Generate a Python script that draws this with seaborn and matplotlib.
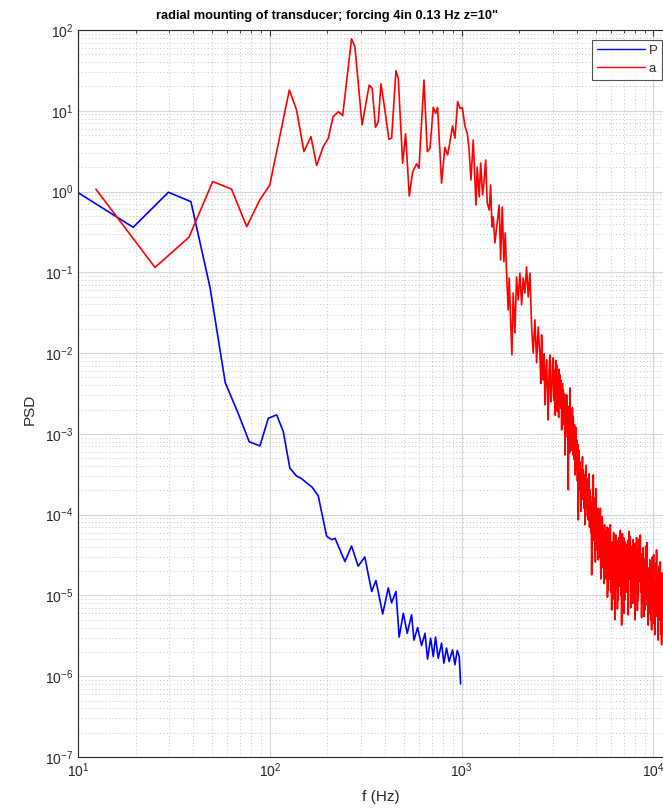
import numpy as np
import pandas as pd
import matplotlib
matplotlib.use("Agg")
import matplotlib.pyplot as plt
import seaborn as sns
from matplotlib.ticker import LogLocator, NullFormatter, FixedLocator

# ---------------- data ----------------
p_freq = [9.8, 19.4, 29.6, 38.8, 48.8, 58.6, 68.4, 78.1, 88.9, 98.2, 108.6, 117.6,
          127.3, 138, 146.5, 152.6, 166, 179, 198, 210.5, 219, 246.6, 267, 289,
          313, 340, 358, 388, 415, 432, 455, 473, 497, 521, 549, 565, 590, 619,
          645, 665, 690, 712, 732, 756, 787, 809, 835, 862, 898, 924, 950, 973, 989]
p_psd = [1.0, 0.361, 0.98, 0.75, 0.065, 0.0043, 0.0018, 8.0e-4, 7.1e-4, 1.56e-3,
         1.72e-3, 1.07e-3, 3.77e-4, 3.0e-4, 2.8e-4, 2.57e-4, 2.2e-4, 1.71e-4,
         5.4e-5, 4.9e-5, 5.1e-5, 2.63e-5, 4.1e-5, 2.3e-5, 3.0e-5, 1.12e-5,
         1.53e-5, 5.9e-6, 1.24e-5, 8.1e-6, 1.12e-5, 3.05e-6, 6.0e-6, 3.4e-6,
         5.75e-6, 2.8e-6, 4.0e-6, 2.4e-6, 3.4e-6, 1.63e-6, 2.96e-6, 1.75e-6,
         3.05e-6, 1.67e-6, 2.57e-6, 1.45e-6, 2.23e-6, 1.52e-6, 2.12e-6, 1.39e-6,
         2.08e-6, 1.75e-6, 8.05e-7]

# accelerometer: low-frequency part
a_freq_low = [12.4, 25.2, 37.9, 50.4, 63.2, 75.8, 89, 100, 126.5, 138, 150.7, 164,
              175.6, 190, 202, 214, 228, 240, 267, 278, 303, 330, 342, 356, 368, 380,
              394, 418, 432, 455, 468, 493, 511, 534, 556, 583, 600, 637, 663, 685,
              712, 733, 750, 787, 819, 846, 862, 898, 924, 954, 982, 1009, 1043, 1072,
              1094, 1120, 1151, 1175, 1189, 1207, 1237, 1258, 1288, 1309, 1336, 1362,
              1395, 1418, 1441, 1463, 1493, 1535, 1572, 1599, 1630, 1663, 1690, 1718,
              1752, 1773, 1803, 1831, 1860, 1898, 1937, 1975, 2016, 2057, 2097, 2140,
              2184, 2227, 2273, 2320, 2365, 2414, 2464, 2512]
a_psd_low = [1.07, 0.115, 0.272, 1.33, 1.07, 0.368, 0.80, 1.2, 18.1, 10.2, 3.12, 4.78,
             2.1, 3.6, 4.57, 8.45, 9.75, 8.7, 78, 62, 6.7, 20.8, 19, 6.25, 7.3, 21.5,
             12.4, 4.43, 4.57, 31.3, 25.2, 2.24, 5.16, 0.88, 1.76, 2.2, 1.94, 24, 3.12,
             3.43, 11, 9.3, 11, 1.27, 3.53, 2.84, 3.6, 6.5, 4.57, 13, 10.7, 11, 6.4, 5.2,
             3.4, 1.39, 4.35, 1.39, 0.68, 2.01, 0.86, 2.26, 0.91, 1.28, 2.46, 0.72,
             0.59, 1.21, 0.365, 0.485, 0.231, 0.41, 0.68, 0.142, 0.645, 0.135, 0.308,
             0.098, 0.0343, 0.0853, 0.0258, 0.0095, 0.0556, 0.0178, 0.0877, 0.0455,
             0.098, 0.0395, 0.0853, 0.0556, 0.117, 0.0497, 0.098, 0.0211, 0.0100,
             0.0258, 0.0076, 0.0211]

# accelerometer: mid band 2.5-4.4 kHz
a_freq_mid = [2563, 2590, 2616, 2641, 2667, 2694, 2722, 2750, 2779, 2806, 2833, 2862,
              2891, 2921, 2951, 2980, 3008, 3023, 3038, 3053, 3069, 3084, 3100, 3116,
              3133, 3148, 3163, 3178, 3194, 3210, 3227, 3243, 3260, 3276, 3293, 3310,
              3327, 3343, 3360, 3376, 3392, 3410, 3427, 3444, 3462, 3480, 3497, 3515,
              3533, 3550, 3567, 3585, 3602, 3621, 3640, 3658, 3676, 3695, 3714, 3733,
              3752, 3770, 3788, 3806, 3825, 3845, 3865, 3884, 3904, 3924, 3944, 3964,
              3985, 4004, 4023, 4042, 4062, 4083, 4104, 4125, 4146, 4167, 4189, 4210,
              4232, 4252, 4273, 4293, 4314, 4336, 4358, 4380]
a_psd_mid = [0.0095, 0.0042, 0.0168, 0.0061, 0.00466, 0.0098, 0.00229, 0.0052,
             0.00824, 0.0031, 0.00149, 0.0062, 0.0095, 0.0025, 0.00304, 0.0071,
             0.00873, 0.0042, 0.0026, 0.0061, 0.0035, 0.0017, 0.0081, 0.0037,
             0.00714, 0.0034, 0.0019, 0.0052, 0.00264, 0.0016, 0.0063, 0.0028,
             0.00537, 0.0038, 0.0021, 0.0046, 0.00112, 0.0024, 0.0042, 0.0016,
             0.0035, 0.0027, 0.0013, 0.0031, 0.00055, 0.0014, 0.0024, 0.0011,
             0.00304, 0.0018, 0.0009, 0.0022, 0.000203, 0.00085, 0.0016, 0.00058,
             0.00371, 0.0014, 0.00062, 0.0017, 0.00073, 0.0011, 0.0021, 0.00055,
             0.00162, 0.0009, 0.00048, 0.0013, 0.000311, 0.00075, 0.0012, 0.00036,
             0.000843, 0.00052, 0.00026, 0.00074, 8.6e-5, 0.00034, 0.00062, 0.00021,
             0.00045, 0.00028, 0.00011, 0.00036, 0.000152, 0.00029, 0.00052, 0.00018,
             0.000358, 0.00024, 0.00012, 0.00031]

# accelerometer: dense high-frequency noise floor 4.4-12 kHz
a_freq_high = [4402, 4425, 4447, 4470, 4493, 4515, 4537, 4559, 4581, 4604, 4628, 4651,
               4675, 4699, 4723, 4747, 4771, 4794, 4817, 4840, 4864, 4889, 4914, 4939,
               4964, 4990, 5015, 5040, 5066, 5090, 5115, 5140, 5164, 5190, 5217, 5244,
               5271, 5298, 5325, 5352, 5379, 5405, 5431, 5457, 5484, 5512, 5541, 5569,
               5598, 5626, 5655, 5683, 5712, 5740, 5768, 5796, 5824, 5853, 5883, 5913,
               5943, 5973, 6004, 6035, 6066, 6095, 6124, 6153, 6183, 6214, 6246, 6278,
               6310, 6342, 6375, 6407, 6440, 6471, 6502, 6533, 6564, 6598, 6632, 6666,
               6700, 6734, 6768, 6802, 6837, 6870, 6904, 6937, 6971, 7007, 7043, 7079,
               7115, 7151, 7188, 7224, 7261, 7296, 7332, 7367, 7403, 7440, 7477, 7514,
               7551, 7590, 7629, 7668, 7707, 7744, 7781, 7818, 7856, 7896, 7937, 7977,
               8018, 8059, 8100, 8141, 8183, 8223, 8263, 8303, 8343, 8386, 8430, 8473,
               8516, 8559, 8603, 8646, 8690, 8732, 8775, 8817, 8860, 8905, 8951, 8996,
               9042, 9088, 9135, 9182, 9229, 9273, 9318, 9363, 9408, 9456, 9504, 9552,
               9601, 9650, 9700, 9750, 9800, 9847, 9894, 9941, 9989, 10040, 10090,
               10140, 10190, 10242, 10295, 10347, 10400, 10452, 10505, 10557, 10610,
               10662, 10715, 10767, 10820, 10877, 10935, 10992, 11050, 11092, 11135,
               11177, 11220, 11500, 12000]
a_psd_high = [7.5e-5, 0.00022, 0.00041, 0.00012, 0.000285, 0.00019, 9.5e-5, 0.00024,
              8.6e-5, 0.00015, 0.00032, 7.0e-5, 0.000203, 0.00011, 6.0e-5, 0.00014,
              1.8e-5, 7.5e-5, 0.00017, 5.0e-5, 0.000311, 9.0e-5, 4.8e-5, 0.00016,
              6.5e-5, 2.6e-5, 0.00021, 7.0e-5, 0.000115, 4.2e-5, 3.6e-5, 0.00012,
              2.76e-5, 6.5e-5, 0.00011, 3.0e-5, 7.5e-5, 0.00012, 1.6e-5, 5.0e-5,
              2.39e-5, 9.5e-5, 8.5e-5, 2.2e-5, 6.5e-5, 3.2e-5, 1.4e-5, 7.5e-5,
              2.07e-5, 4.0e-5, 6.2e-5, 1.6e-5, 3.47e-5, 7.0e-5, 9.5e-6, 3.0e-5,
              1.17e-5, 6.8e-5, 5.5e-5, 1.6e-5, 4.23e-5, 7.5e-5, 1.1e-5, 3.4e-5,
              6.6e-6, 2.5e-5, 4.6e-5, 1.4e-5, 3.18e-5, 6.0e-5, 9.0e-6, 3.6e-5,
              5.0e-6, 1.9e-5, 5.6e-5, 1.2e-5, 2.76e-5, 4.8e-5, 6.8e-6, 2.2e-5,
              8.8e-6, 5.2e-5, 4.4e-5, 1.3e-5, 3.66e-5, 6.4e-5, 1.0e-5, 2.8e-5,
              4.3e-6, 1.8e-5, 5.8e-5, 1.5e-5, 3.18e-5, 5.2e-5, 6.0e-6, 2.4e-5,
              8.8e-6, 4.6e-5, 3.4e-5, 1.1e-5, 4.23e-5, 2.0e-5, 1.2e-5, 4.8e-5,
              5.75e-6, 2.6e-5, 6.2e-5, 1.6e-5, 3.66e-5, 5.4e-5, 7.0e-6, 2.2e-5,
              8.8e-6, 4.0e-5, 2.9e-5, 8.0e-6, 4.9e-5, 2.3e-5, 1.3e-5, 4.4e-5,
              5.0e-6, 1.7e-5, 4.4e-5, 1.1e-5, 5.2e-5, 2.6e-5, 6.5e-6, 3.6e-5,
              8.8e-6, 2.2e-5, 5.0e-5, 1.5e-5, 3.18e-5, 5.6e-5, 1.1e-5, 2.4e-5,
              5.3e-6, 1.9e-5, 3.3e-5, 8.0e-6, 3.9e-5, 1.6e-5, 5.5e-6, 2.8e-5,
              6.6e-6, 1.5e-5, 4.1e-5, 9.0e-6, 2.39e-5, 4.5e-5, 7.5e-6, 1.9e-5,
              4.3e-6, 1.2e-5, 2.2e-5, 6.0e-6, 2.76e-5, 1.1e-5, 5.0e-6, 2.0e-5,
              3.75e-6, 1.4e-5, 3.0e-5, 7.0e-6, 1.8e-5, 3.2e-5, 4.5e-6, 1.3e-5,
              3.25e-6, 1.0e-5, 2.5e-5, 5.5e-6, 3.66e-5, 1.2e-5, 6.0e-6, 1.8e-5,
              2.8e-6, 9.0e-6, 2.3e-5, 5.0e-6, 1.56e-5, 2.6e-5, 3.3e-6, 1.1e-5,
              2.45e-6, 7.0e-6, 1.9e-5, 3.5e-6, 8.8e-6, 4e-6, 1.2e-5]

series_labels = ["P", "a"]
title_text = 'radial mounting of transducer; forcing 4in 0.13 Hz z=10"'
x_label = "f (Hz)"
y_label = "PSD"
x_ticks = [1e1, 1e2, 1e3, 1e4]
y_ticks = [1e-7, 1e-6, 1e-5, 1e-4, 1e-3, 1e-2, 1e-1, 1e0, 1e1, 1e2]

# ---------------- styling ----------------
sns.set_style("white")
plt.rcParams["font.family"] = ["Liberation Sans", "DejaVu Sans"]
plt.rcParams["mathtext.fontset"] = "custom"
plt.rcParams["mathtext.rm"] = "Liberation Sans"
plt.rcParams["mathtext.it"] = "Liberation Sans:italic"
plt.rcParams["mathtext.bf"] = "Liberation Sans:bold"

W, H = 663, 808
fig = plt.figure(figsize=(W / 100, H / 100), dpi=100)
ax_left, ax_top, ax_bottom, ax_right = 78, 30, 757, 711
ax = fig.add_axes([ax_left / W, 1 - ax_bottom / H,
                   (ax_right - ax_left) / W, (ax_bottom - ax_top) / H])

df_p = pd.DataFrame({"f": p_freq, "psd": p_psd})
df_a = pd.DataFrame({"f": a_freq_low + a_freq_mid + a_freq_high,
                     "psd": a_psd_low + a_psd_mid + a_psd_high})
sns.lineplot(data=df_p, x="f", y="psd", ax=ax, color="#0000ff", lw=1.2,
             label=series_labels[0], estimator=None, sort=False)
sns.lineplot(data=df_a, x="f", y="psd", ax=ax, color="#ff0000", lw=1.2,
             label=series_labels[1], estimator=None, sort=False)

ax.set_xscale("log")
ax.set_yscale("log")
ax.set_xlim(10, 10 ** 4.301)
ax.set_ylim(1e-7, 1e2)

ax.xaxis.set_major_locator(FixedLocator(x_ticks))
ax.yaxis.set_major_locator(FixedLocator(y_ticks))
ax.xaxis.set_minor_locator(LogLocator(base=10, subs=np.arange(2, 10), numticks=100))
ax.yaxis.set_minor_locator(LogLocator(base=10, subs=np.arange(2, 10), numticks=100))
ax.xaxis.set_minor_formatter(NullFormatter())
ax.yaxis.set_minor_formatter(NullFormatter())

ax.grid(True, which="major", color="#d6d6d6", lw=0.8, ls="-")
ax.grid(True, which="minor", color="#c4c4c4", lw=0.7, ls=(0, (1, 2.5)))
ax.set_axisbelow(True)

for s in ax.spines.values():
    s.set_color("#262626")
    s.set_linewidth(0.8)

ax.tick_params(which="both", direction="in", top=True, right=True,
               colors="#262626", labelsize=10)
ax.tick_params(which="major", length=4, width=0.8)
ax.tick_params(which="minor", length=2, width=0.6)

ax.set_xlabel("")
ax.set_ylabel("")
fig.text(381 / W, 1 - 797 / H, x_label, fontsize=11, color="#262626",
         ha="center", va="center")
fig.text(30 / W, 1 - 409 / H, y_label, fontsize=11, color="#262626",
         ha="center", va="center", rotation=90)
fig.text(327 / W, 1 - 16 / H, title_text, fontsize=9.3, fontweight="bold",
         color="black", ha="center", va="center")

leg = ax.legend(loc="upper right", bbox_to_anchor=(662 / W, 1 - 40 / H),
                bbox_transform=fig.transFigure, borderaxespad=0, fontsize=9.5,
                frameon=True, fancybox=False, handlelength=3.6, handletextpad=0.3,
                borderpad=0.35, labelspacing=0.45)
leg.get_frame().set_edgecolor("#262626")
leg.get_frame().set_linewidth(0.8)
for line in leg.get_lines():
    line.set_linewidth(1.0)

fig.savefig("out.png", dpi=100)
